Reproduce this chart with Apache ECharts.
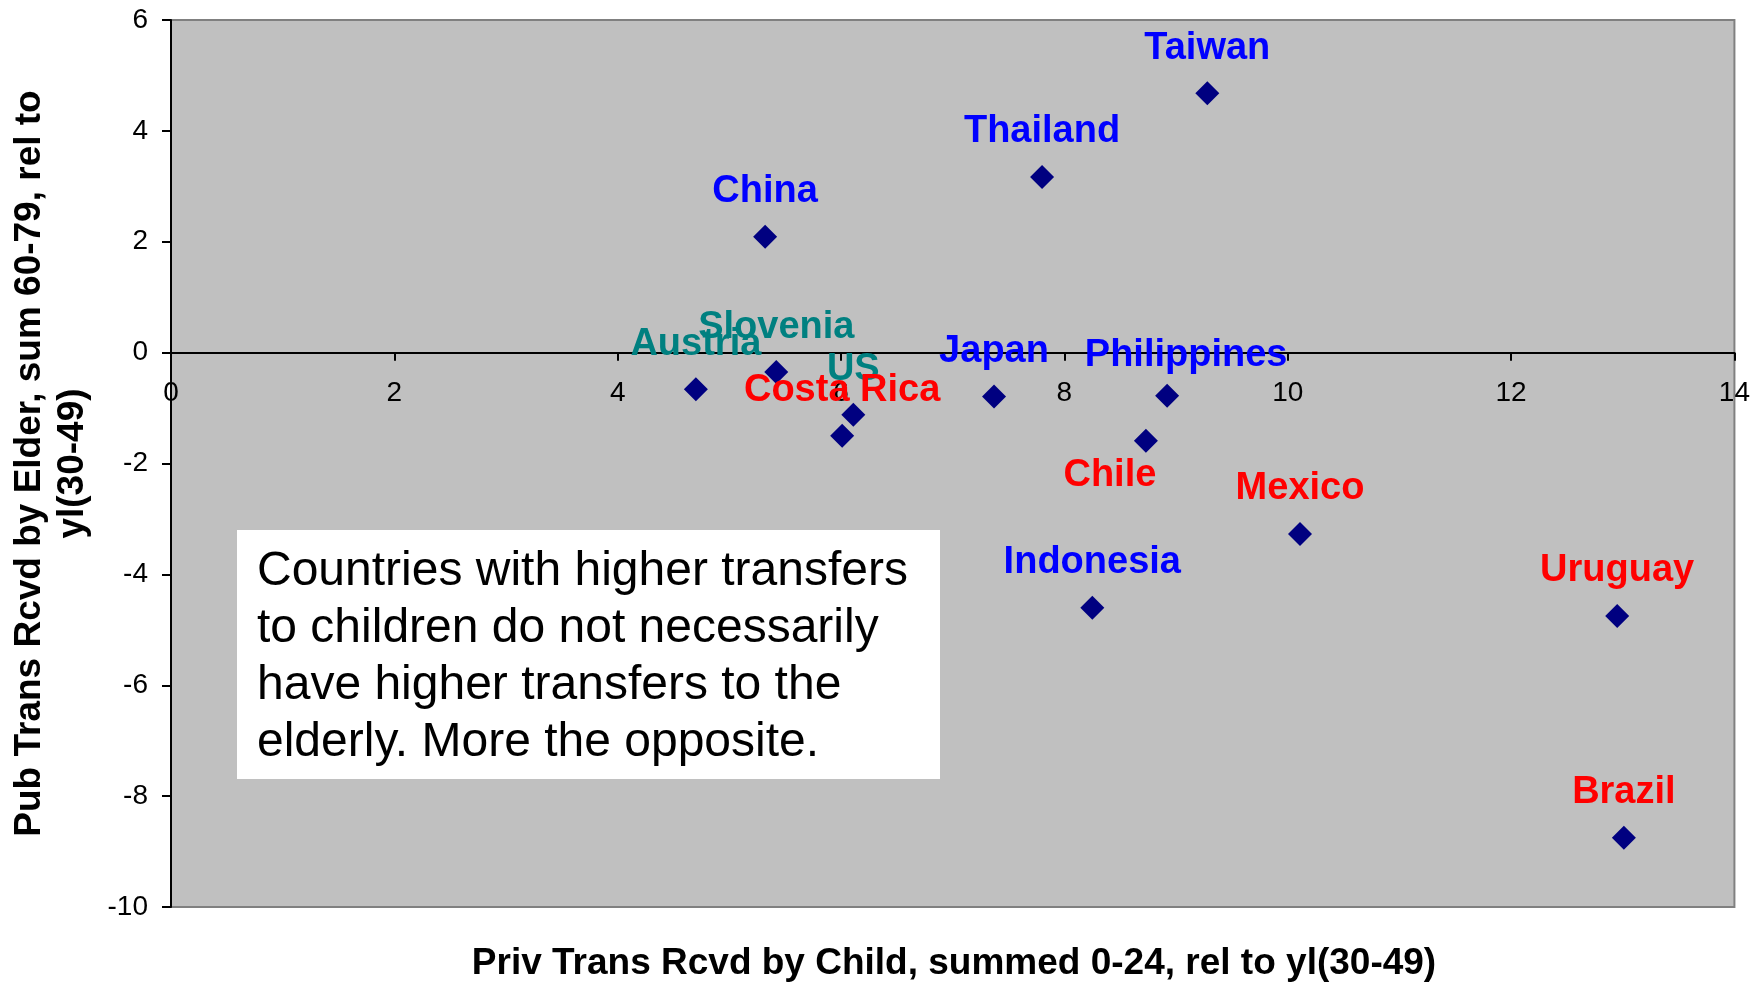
<!DOCTYPE html>
<html>
<head>
<meta charset="utf-8">
<script src="https://cdn.jsdelivr.net/npm/echarts@6/dist/echarts.min.js"></script>
<style>
html,body{margin:0;padding:0;background:#fff;}
#chart{width:1753px;height:983px;}
</style>
</head>
<body>
<div id="chart"></div>
<script>
const countries = ['Taiwan','Thailand','China','Slovenia','Austria','US','Costa Rica','Japan','Philippines','Chile','Mexico','Indonesia','Uruguay','Brazil'];
const privTransChild = [9.28, 7.80, 5.32, 5.42, 4.70, 6.11, 6.01, 7.37, 8.92, 8.73, 10.11, 8.25, 12.95, 13.01];
const pubTransElder = [4.68, 3.17, 2.09, -0.35, -0.66, -1.12, -1.50, -0.79, -0.78, -1.59, -3.27, -4.60, -4.75, -8.75];
const regions = ['asia','asia','asia','west','west','west','latam','asia','asia','latam','latam','asia','latam','latam'];
const xTicks = [0, 2, 4, 6, 8, 10, 12, 14];
const yTicks = [-10, -8, -6, -4, -2, 0, 2, 4, 6];
const noteText = 'Countries with higher transfers\nto children do not necessarily\nhave higher transfers to the\nelderly. More the opposite.';
const xTitle = 'Priv Trans Rcvd by Child, summed 0-24, rel to yl(30-49)';
const yTitle = 'Pub Trans Rcvd by Elder, sum 60-79, rel to\nyl(30-49)';

const regionColor = { asia: '#0000FF', west: '#008080', latam: '#FF0000' };
const labelOffsetDefault = [0, -45];
const labelOffsetSpecial = { 'Philippines': [19, -40], 'Chile': [-36, 35] };
const FONT = 'Arial, "Liberation Sans", sans-serif';

const GRID_TOP = 20, GRID_BOTTOM = 76, H = 983;
const plotH = H - GRID_TOP - GRID_BOTTOM;
const yMin = yTicks[0], yMax = yTicks[yTicks.length - 1];
// move x axis up to the y=0 line
const xAxisOffset = -plotH * (0 - yMin) / (yMax - yMin);

const data = countries.map((c, i) => ({
  name: c,
  value: [privTransChild[i], pubTransElder[i]],
  label: {
    color: regionColor[regions[i]],
    offset: labelOffsetSpecial[c] || labelOffsetDefault
  }
}));

const chart = echarts.init(document.getElementById('chart'));
chart.setOption({
  animation: false,
  backgroundColor: '#ffffff',
  grid: {
    left: 171, top: GRID_TOP, right: 16, bottom: GRID_BOTTOM,
    show: true, backgroundColor: '#C0C0C0', borderColor: '#808080', borderWidth: 2
  },
  xAxis: {
    type: 'value',
    position: 'bottom',
    offset: xAxisOffset,
    min: xTicks[0], max: xTicks[xTicks.length - 1], interval: xTicks[1] - xTicks[0],
    axisLine: { show: true, onZero: false, lineStyle: { color: '#000', width: 2 } },
    axisTick: { show: true, length: 8, lineStyle: { color: '#000', width: 2 } },
    axisLabel: { fontSize: 28, color: '#000', fontFamily: FONT, margin: 27 },
    splitLine: { show: false }
  },
  yAxis: {
    type: 'value',
    min: yMin, max: yMax, interval: yTicks[1] - yTicks[0],
    axisLine: { show: true, onZero: false, lineStyle: { color: '#000', width: 2 } },
    axisTick: { show: true, length: 9, lineStyle: { color: '#000', width: 2 } },
    axisLabel: { fontSize: 28, color: '#000', fontFamily: FONT, margin: 23 },
    splitLine: { show: false },
    name: yTitle,
    nameLocation: 'middle',
    nameRotate: 90,
    nameGap: 77,
    nameTextStyle: { fontSize: 37, fontWeight: 'bold', color: '#000', fontFamily: FONT, lineHeight: 43, align: 'center' }
  },
  series: [{
    type: 'scatter',
    symbol: 'diamond',
    symbolSize: [24, 24],
    itemStyle: { color: '#000080', opacity: 1 },
    label: {
      show: true,
      position: 'inside',
      formatter: '{b}',
      fontSize: 38,
      fontWeight: 'bold',
      fontFamily: FONT,
      opacity: 1
    },
    emphasis: { disabled: true },
    data: data
  }],
  graphic: [
    {
      type: 'rect',
      shape: { x: 237, y: 530, width: 703, height: 249 },
      style: { fill: '#ffffff' },
      z: 100
    },
    {
      type: 'text',
      x: 257, y: 543,
      style: { text: noteText, font: '48px ' + FONT, fill: '#000', lineHeight: 57, verticalAlign: 'top' },
      z: 101
    },
    {
      type: 'text',
      x: 954, y: 964,
      style: { text: xTitle, font: 'bold 37px ' + FONT, fill: '#000', align: 'center', verticalAlign: 'middle' },
      z: 101
    }
  ]
});
</script>
</body>
</html>
